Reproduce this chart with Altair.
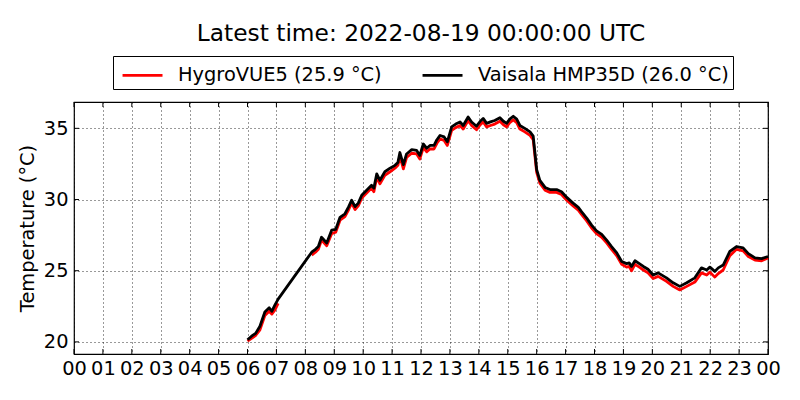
import altair as alt
import pandas as pd

FONT = "DejaVu Sans"
W, H = 694, 252

hours = [6.00, 6.14, 6.28, 6.43, 6.6, 6.75, 6.84, 6.95, 7.06,
         8.22, 8.35, 8.45, 8.56, 8.74, 8.91, 9.05, 9.2, 9.37, 9.5, 9.6, 9.72, 9.83, 9.95,
         10.12, 10.29, 10.37, 10.47, 10.58, 10.75, 10.93, 11.1, 11.2, 11.27, 11.39, 11.5,
         11.68, 11.85, 11.96, 12.08, 12.2, 12.31, 12.45, 12.55, 12.66, 12.8, 12.91, 13.06,
         13.2, 13.35, 13.46, 13.63, 13.75, 13.92, 14.05, 14.15, 14.27, 14.4, 14.55, 14.73,
         14.85, 14.96, 15.07, 15.19, 15.31, 15.42, 15.59, 15.77, 15.88, 15.94, 16.0, 16.11,
         16.29, 16.46, 16.69, 16.86, 17.04, 17.26, 17.44, 17.55, 17.73, 17.9, 18.07, 18.25,
         18.42, 18.59, 18.77, 18.94, 19.11, 19.2, 19.28, 19.4, 19.55, 19.69, 19.85, 20.03,
         20.2, 20.49, 20.72, 20.95, 21.19, 21.47, 21.7, 21.88, 21.99, 22.16, 22.28, 22.45,
         22.68, 22.91, 23.14, 23.32, 23.55, 23.78, 24.0]

vaisala = [20.15, 20.4, 20.6, 21.1, 22.1, 22.4, 22.15, 22.6, 23.0,
           26.3, 26.5, 26.7, 27.35, 26.95, 27.85, 27.9, 28.75, 29.0, 29.5, 29.95, 29.5, 29.75, 30.3,
           30.65, 31.0, 30.8, 31.8, 31.35, 31.95, 32.2, 32.4, 32.6, 33.3, 32.45, 33.2,
           33.5, 33.45, 33.1, 33.9, 33.6, 33.8, 33.8, 34.2, 34.5, 34.4, 34.05, 35.1,
           35.3, 35.45, 35.2, 35.8, 35.45, 35.15, 35.5, 35.7, 35.35, 35.45, 35.55, 35.75,
           35.5, 35.35, 35.65, 35.85, 35.65, 35.2, 35.0, 34.75, 34.45, 33.3, 32.1, 31.35,
           30.85, 30.7, 30.7, 30.55, 30.15, 29.75, 29.45, 29.15, 28.7, 28.2, 27.8, 27.55,
           27.15, 26.7, 26.25, 25.65, 25.5, 25.55, 25.3, 25.7, 25.5, 25.3, 25.1, 24.7,
           24.85, 24.5, 24.15, 23.9, 24.15, 24.5, 25.2, 25.05, 25.25, 24.95, 25.2, 25.4,
           26.35, 26.7, 26.6, 26.2, 25.9, 25.85, 26.0]

hygro = [20.05, 20.25, 20.45, 20.85, 21.85, 22.15, 21.95, 22.25, 22.7,
         26.1, 26.3, 26.5, 27.15, 26.75, 27.6, 27.7, 28.55, 28.8, 29.3, 29.75, 29.3, 29.55, 30.1,
         30.45, 30.8, 30.55, 31.55, 31.1, 31.7, 31.95, 32.2, 32.4, 33.05, 32.15, 32.95,
         33.25, 33.2, 32.85, 33.65, 33.35, 33.55, 33.55, 33.95, 34.25, 34.15, 33.8, 34.85,
         35.05, 35.2, 34.95, 35.55, 35.2, 34.9, 35.25, 35.45, 35.1, 35.2, 35.3, 35.5,
         35.25, 35.1, 35.4, 35.6, 35.4, 34.95, 34.75, 34.5, 34.2, 33.05, 31.9, 31.15,
         30.65, 30.5, 30.5, 30.35, 29.95, 29.55, 29.25, 28.95, 28.5, 28.0, 27.6, 27.35,
         26.95, 26.5, 26.05, 25.45, 25.25, 25.3, 25.0, 25.45, 25.25, 25.05, 24.85, 24.45,
         24.6, 24.25, 23.9, 23.65, 23.9, 24.2, 24.85, 24.7, 24.9, 24.55, 24.8, 25.05,
         26.05, 26.5, 26.4, 26.0, 25.75, 25.7, 25.9]

hygro_gap_start = 7.06  # HygroVUE5 has no data between 7.06 and 8.22

series_names = ["HygroVUE5 (25.9 °C)", "Vaisala HMP35D (26.0 °C)"]
series_colors = ["#ff0000", "#000000"]
x_ticks = list(range(25))
y_ticks = [20, 25, 30, 35]
title_text = "Latest time: 2022-08-19 00:00:00 UTC"

red_df = pd.DataFrame({"h": hours, "T": hygro, "series": series_names[0],
                       "seg": [0 if t <= hygro_gap_start else 1 for t in hours]})
blk_df = pd.DataFrame({"h": hours, "T": vaisala, "series": series_names[1]})

FS = 19.4
X = alt.X("h:Q", scale=alt.Scale(domain=[0, 24], nice=False, zero=False),
          axis=alt.Axis(values=x_ticks, title=None, tickSize=0, domain=False,
                        labelExpr="(datum.value % 24 < 10 ? '0' : '') + (datum.value % 24)",
                        labelFont=FONT, labelFontSize=FS, labelColor="black", labelPadding=5,
                        grid=True, gridColor="black", gridDash=[1, 3], gridWidth=1,
                        gridOpacity=0.8, labelFlush=False, labelOverlap=False))
Y = alt.Y("T:Q", scale=alt.Scale(domain=[19.15, 36.85], nice=False, zero=False),
          axis=alt.Axis(values=y_ticks, title="Temperature (°C)", tickSize=0, domain=False,
                        labelFont=FONT, labelFontSize=FS, labelColor="black", labelPadding=6,
                        titleFont=FONT, titleFontSize=FS, titleFontWeight="normal",
                        titleColor="black", titlePadding=6,
                        grid=True, gridColor="black", gridDash=[1, 3], gridWidth=1,
                        gridOpacity=0.8))
C = alt.Color("series:N", scale=alt.Scale(domain=series_names, range=series_colors),
              legend=alt.Legend(title=None, orient="none", legendX=39, legendY=-46,
                                direction="horizontal", symbolType="M-0.7,0H2.26",
                                symbolSize=729, symbolStrokeWidth=2.8,
                                labelFont=FONT, labelFontSize=FS, labelColor="black",
                                labelLimit=400, labelOffset=31, columnPadding=34,
                                strokeColor="black", padding=4, cornerRadius=0,
                                fillColor="white"))

red = alt.Chart(red_df).mark_line(strokeWidth=2.8, strokeJoin="round").encode(
    x=X, y=Y, color=C, detail="seg:N")
blk = alt.Chart(blk_df).mark_line(strokeWidth=2.8, strokeJoin="round").encode(
    x=X, y=Y, color=C)

xt_df = pd.DataFrame({"h": x_ticks})
yt_df = pd.DataFrame({"T": y_ticks})
tick_style = dict(color="black", strokeWidth=1)
xt_bot = alt.Chart(xt_df).mark_rule(**tick_style).encode(x=X, y=alt.value(H - 5), y2=alt.value(H))
xt_top = alt.Chart(xt_df).mark_rule(**tick_style).encode(x=X, y=alt.value(0), y2=alt.value(5))
yt_l = alt.Chart(yt_df).mark_rule(**tick_style).encode(y=Y, x=alt.value(0), x2=alt.value(5))
yt_r = alt.Chart(yt_df).mark_rule(**tick_style).encode(y=Y, x=alt.value(W - 5), x2=alt.value(W))

chart = alt.layer(xt_bot, xt_top, yt_l, yt_r, red, blk).properties(
    width=W, height=H,
    title=alt.TitleParams(title_text, font=FONT, fontSize=23.3, fontWeight="normal",
                          color="black", anchor="middle", frame="group", offset=9),
    autosize=alt.AutoSizeParams(type="none"),
    padding={"left": 66, "top": 94, "right": 16, "bottom": 30},
    background="white",
).configure_view(stroke="black", strokeWidth=1.2)

chart.save("out.html", embed_options={"renderer": "svg", "actions": False})
